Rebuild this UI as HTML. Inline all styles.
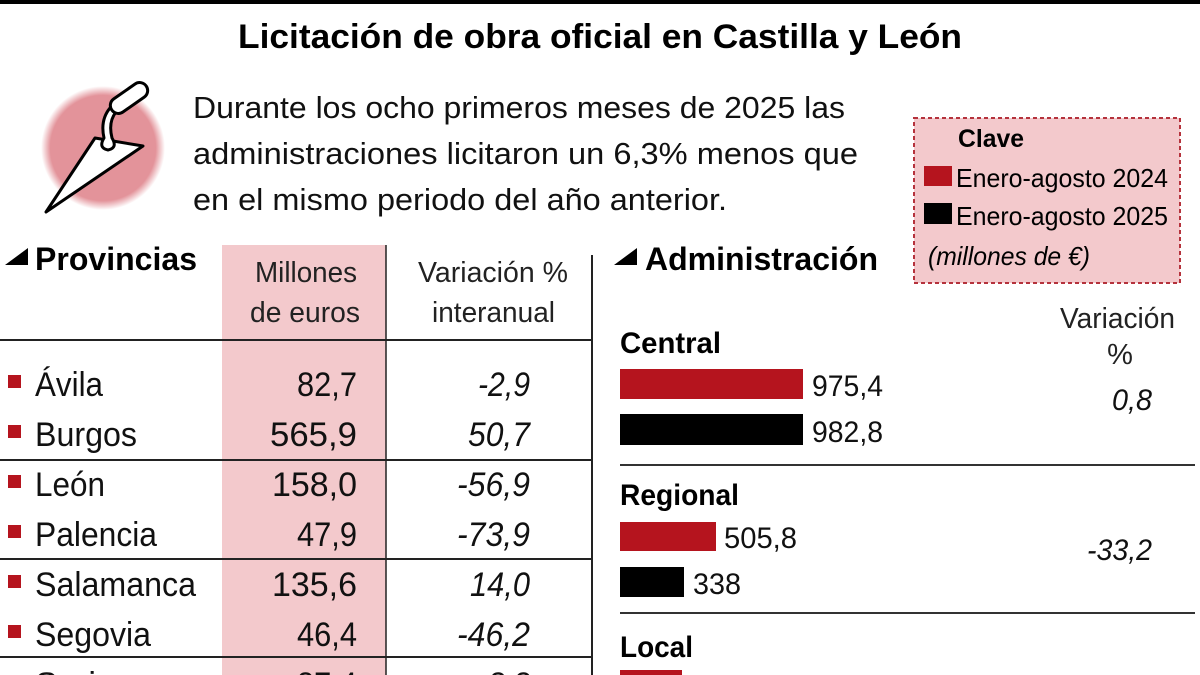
<!DOCTYPE html>
<html><head><meta charset="utf-8"><style>
html,body{margin:0;padding:0;background:#fff;width:1200px;height:675px;overflow:hidden}
svg{display:block;font-family:"Liberation Sans",sans-serif}
</style></head><body>
<svg width="1200" height="675" viewBox="0 0 1200 675" xmlns="http://www.w3.org/2000/svg">
<defs><radialGradient id="g"><stop offset="0.85" stop-color="#e3939a"/><stop offset="1" stop-color="#e3939a" stop-opacity="0"/></radialGradient></defs>
<rect x="0" y="0" width="1200" height="4" fill="#000"/>
<text x="600" y="48" font-size="34" font-weight="bold" text-anchor="middle" textLength="724" lengthAdjust="spacingAndGlyphs">Licitación de obra oficial en Castilla y León</text>
<circle cx="103" cy="148" r="62" fill="url(#g)"/>
<g fill="#fff" stroke="#000" stroke-width="3" stroke-linejoin="round">
<path d="M46 212 L95 138 L143 146 Z"/>
<path d="M110 108 Q100 120 104 138 Q98 148 108 150 Q118 148 112 138 Q108 122 116 112 Z"/>
<rect x="108" y="90" width="42" height="16" rx="8" transform="rotate(-35 129 98)"/>
</g>
<g font-size="31" fill="#111">
<text x="193" y="118" textLength="652" lengthAdjust="spacingAndGlyphs">Durante los ocho primeros meses de 2025 las</text>
<text x="193" y="164" textLength="665" lengthAdjust="spacingAndGlyphs">administraciones licitaron un 6,3% menos que</text>
<text x="193" y="210" textLength="534" lengthAdjust="spacingAndGlyphs">en el mismo periodo del año anterior.</text>
</g>
<rect x="914" y="118" width="266" height="165" fill="#f3c9cc" stroke="#b5323c" stroke-width="2" stroke-dasharray="4 3"/>
<text x="958" y="147" font-size="25" font-weight="bold" textLength="66" lengthAdjust="spacingAndGlyphs">Clave</text>
<rect x="924" y="166" width="28" height="20" fill="#b5141e"/>
<rect x="924" y="203" width="28" height="21" fill="#000"/>
<g font-size="26"><text x="956" y="187" textLength="212" lengthAdjust="spacingAndGlyphs">Enero-agosto 2024</text>
<text x="956" y="225" textLength="212" lengthAdjust="spacingAndGlyphs">Enero-agosto 2025</text>
<text x="928" y="265" font-style="italic" textLength="162" lengthAdjust="spacingAndGlyphs">(millones de €)</text></g>
<rect x="222" y="245" width="164" height="430" fill="#f3c9cc"/>
<line x1="386" y1="245" x2="386" y2="675" stroke="#222" stroke-width="1.5"/>
<line x1="592" y1="255" x2="592" y2="675" stroke="#222" stroke-width="2"/>
<path d="M5 265 L28 248 L28 265 Z" fill="#000"/>
<text x="35" y="270" font-size="32" font-weight="bold" textLength="162" lengthAdjust="spacingAndGlyphs">Provincias</text>
<g font-size="29" fill="#222" lengthAdjust="spacingAndGlyphs">
<text x="255" y="282" textLength="102" lengthAdjust="spacingAndGlyphs">Millones</text>
<text x="250" y="322" textLength="110" lengthAdjust="spacingAndGlyphs">de euros</text>
<text x="418" y="282" textLength="150" lengthAdjust="spacingAndGlyphs">Variación %</text>
<text x="432" y="322" textLength="123" lengthAdjust="spacingAndGlyphs">interanual</text>
</g>
<g stroke="#222" stroke-width="2">
<line x1="0" y1="340" x2="592" y2="340"/><line x1="0" y1="460" x2="592" y2="460"/>
<line x1="0" y1="559" x2="592" y2="559"/><line x1="0" y1="657" x2="592" y2="657"/>
</g>
<g fill="#b5141e">
<rect x="8" y="375" width="13" height="13"/><rect x="8" y="425" width="13" height="13"/>
<rect x="8" y="475" width="13" height="13"/><rect x="8" y="525" width="13" height="13"/>
<rect x="8" y="575" width="13" height="13"/><rect x="8" y="625" width="13" height="13"/>
<rect x="8" y="675" width="13" height="13"/></g>
<g font-size="34" fill="#111">
<text x="35" y="396" textLength="68" lengthAdjust="spacingAndGlyphs">Ávila</text>
<text x="35" y="446" textLength="102" lengthAdjust="spacingAndGlyphs">Burgos</text>
<text x="35" y="496" textLength="70" lengthAdjust="spacingAndGlyphs">León</text>
<text x="35" y="546" textLength="122" lengthAdjust="spacingAndGlyphs">Palencia</text>
<text x="35" y="596" textLength="161" lengthAdjust="spacingAndGlyphs">Salamanca</text>
<text x="35" y="646" textLength="116" lengthAdjust="spacingAndGlyphs">Segovia</text>
<text x="35" y="696" textLength="80" lengthAdjust="spacingAndGlyphs">Soria</text>
</g>
<g font-size="34" fill="#111">
<text x="297" y="396" textLength="60" lengthAdjust="spacingAndGlyphs">82,7</text>
<text x="270" y="446" textLength="87" lengthAdjust="spacingAndGlyphs">565,9</text>
<text x="272" y="496" textLength="85" lengthAdjust="spacingAndGlyphs">158,0</text>
<text x="297" y="546" textLength="60" lengthAdjust="spacingAndGlyphs">47,9</text>
<text x="272" y="596" textLength="85" lengthAdjust="spacingAndGlyphs">135,6</text>
<text x="297" y="646" textLength="60" lengthAdjust="spacingAndGlyphs">46,4</text>
<text x="297" y="696" textLength="60" lengthAdjust="spacingAndGlyphs">87,4</text>
</g>
<g font-size="34" fill="#111" font-style="italic">
<text x="478" y="396" textLength="52" lengthAdjust="spacingAndGlyphs">-2,9</text>
<text x="468" y="446" textLength="62" lengthAdjust="spacingAndGlyphs">50,7</text>
<text x="457" y="496" textLength="73" lengthAdjust="spacingAndGlyphs">-56,9</text>
<text x="457" y="546" textLength="73" lengthAdjust="spacingAndGlyphs">-73,9</text>
<text x="470" y="596" textLength="60" lengthAdjust="spacingAndGlyphs">14,0</text>
<text x="457" y="646" textLength="73" lengthAdjust="spacingAndGlyphs">-46,2</text>
<text x="478" y="696" textLength="52" lengthAdjust="spacingAndGlyphs">-8,8</text>
</g>
<path d="M614 265 L637 248 L637 265 Z" fill="#000"/>
<text x="645" y="270" font-size="32" font-weight="bold" textLength="233" lengthAdjust="spacingAndGlyphs">Administración</text>
<g font-size="29" fill="#222"><text x="1060" y="328" textLength="115" lengthAdjust="spacingAndGlyphs">Variación</text><text x="1120" y="364" text-anchor="middle">%</text></g>
<g font-size="30" font-weight="bold">
<text x="620" y="353" textLength="101" lengthAdjust="spacingAndGlyphs">Central</text>
<text x="620" y="505" textLength="119" lengthAdjust="spacingAndGlyphs">Regional</text>
<text x="620" y="657" textLength="73" lengthAdjust="spacingAndGlyphs">Local</text></g>
<rect x="620" y="369" width="183" height="30" fill="#b5141e"/>
<rect x="620" y="414" width="183" height="31" fill="#000"/>
<rect x="620" y="522" width="96" height="29" fill="#b5141e"/>
<rect x="620" y="567" width="64" height="30" fill="#000"/>
<rect x="620" y="670" width="62" height="10" fill="#b5141e"/>
<g font-size="30" fill="#111">
<text x="812" y="396" textLength="71" lengthAdjust="spacingAndGlyphs">975,4</text>
<text x="812" y="442" textLength="71" lengthAdjust="spacingAndGlyphs">982,8</text>
<text x="724" y="548" textLength="73" lengthAdjust="spacingAndGlyphs">505,8</text>
<text x="693" y="594" textLength="48" lengthAdjust="spacingAndGlyphs">338</text>
<text x="690" y="697" textLength="71" lengthAdjust="spacingAndGlyphs">384,1</text>
</g>
<g font-size="30" font-style="italic" fill="#111">
<text x="1112" y="410" textLength="40" lengthAdjust="spacingAndGlyphs">0,8</text>
<text x="1087" y="560" textLength="65" lengthAdjust="spacingAndGlyphs">-33,2</text></g>
<g stroke="#333" stroke-width="2"><line x1="620" y1="465" x2="1195" y2="465"/><line x1="620" y1="613" x2="1195" y2="613"/></g>
</svg>
</body></html>
